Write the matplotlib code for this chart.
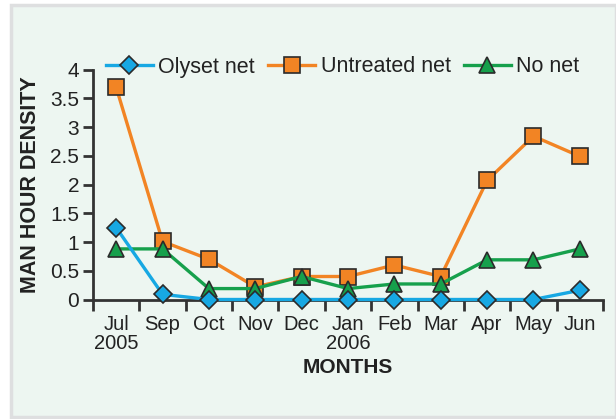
import matplotlib.pyplot as plt
from matplotlib.patches import Rectangle

# data
months = ["Jul\n2005", "Sep", "Oct", "Nov", "Dec", "Jan\n2006", "Feb", "Mar", "Apr", "May", "Jun"]
olyset = [1.25, 0.09, 0.0, 0.0, 0.0, 0.0, 0.0, 0.0, 0.0, 0.0, 0.16]
untreated = [3.69, 1.01, 0.70, 0.22, 0.40, 0.40, 0.60, 0.40, 2.07, 2.84, 2.49]
no_net = [0.88, 0.88, 0.19, 0.19, 0.40, 0.19, 0.27, 0.27, 0.69, 0.69, 0.88]

plt.rcParams['font.family'] = ['Liberation Sans', 'DejaVu Sans']

W, H = 616, 419
fig = plt.figure(figsize=(W / 100, H / 100), dpi=100)
fig.patch.set_facecolor('white')

# light panel with a grey frame behind everything
fig.patches.append(Rectangle((11 / W, 2 / H), (W - 11) / W, (H - 7) / H,
                             transform=fig.transFigure, facecolor='#EDF6F1',
                             edgecolor='#DEDFE0', linewidth=2.5, zorder=-10))

ax = fig.add_axes([93 / W, 1 - 299.5 / H, (603 - 93) / W, (299.5 - 69.5) / H])
ax.set_facecolor('none')

x = list(range(len(months)))
edge = '#2b2b2b'
ax.plot(x, olyset, color='#17A8E3', lw=2.4, marker='D', ms=9,
        mfc='#17A8E3', mec=edge, mew=1.2, label='Olyset net', zorder=4, clip_on=False)
ax.plot(x, untreated, color='#F28424', lw=2.4, marker='s', ms=11,
        mfc='#F28424', mec=edge, mew=1.2, label='Untreated net', zorder=2, clip_on=False)
ax.plot(x, no_net, color='#16A04C', lw=2.4, marker='^', ms=11,
        mfc='#16A04C', mec=edge, mew=1.2, label='No net', zorder=3, clip_on=False)

ax.set_xlim(-0.5, len(months) - 0.5)
ax.set_ylim(0, 4)
ax.set_yticks([0, 0.5, 1, 1.5, 2, 2.5, 3, 3.5, 4])
ax.set_yticklabels(['0', '0.5', '1', '1.5', '2', '2.5', '3', '3.5', '4'])

# ticks on the category boundaries, labels in the middle
ax.set_xticks([i - 0.5 for i in range(len(months) + 1)])
ax.set_xticklabels([])
ax.set_xticks(x, minor=True)
ax.set_xticklabels(months, minor=True, fontsize=14.5, color='#222222', linespacing=1.0)
ax.tick_params(axis='x', which='minor', length=0, pad=11)
ax.tick_params(axis='x', which='major', length=8, width=2, color='#333333', direction='out')
ax.tick_params(axis='y', length=7, width=2, color='#333333', labelsize=15,
               labelcolor='#222222', pad=3)

for side in ['top', 'right']:
    ax.spines[side].set_visible(False)
for side in ['left', 'bottom']:
    ax.spines[side].set_linewidth(2)
    ax.spines[side].set_color('#333333')

ax.set_xlabel('MONTHS', fontsize=15, fontweight='bold', color='#222222', labelpad=4)
ax.set_ylabel('MAN HOUR DENSITY', fontsize=15.5, fontweight='bold', color='#222222')
ax.yaxis.set_label_coords(-0.102, 0.5)

fig.legend(loc='center left', bbox_to_anchor=(97 / W, 1 - 67 / H), ncol=3,
           frameon=False, fontsize=15.5, handlelength=2.2, handletextpad=0.25,
           columnspacing=0.6, borderaxespad=0, labelcolor='#222222')

fig.savefig('out.png', dpi=100)
